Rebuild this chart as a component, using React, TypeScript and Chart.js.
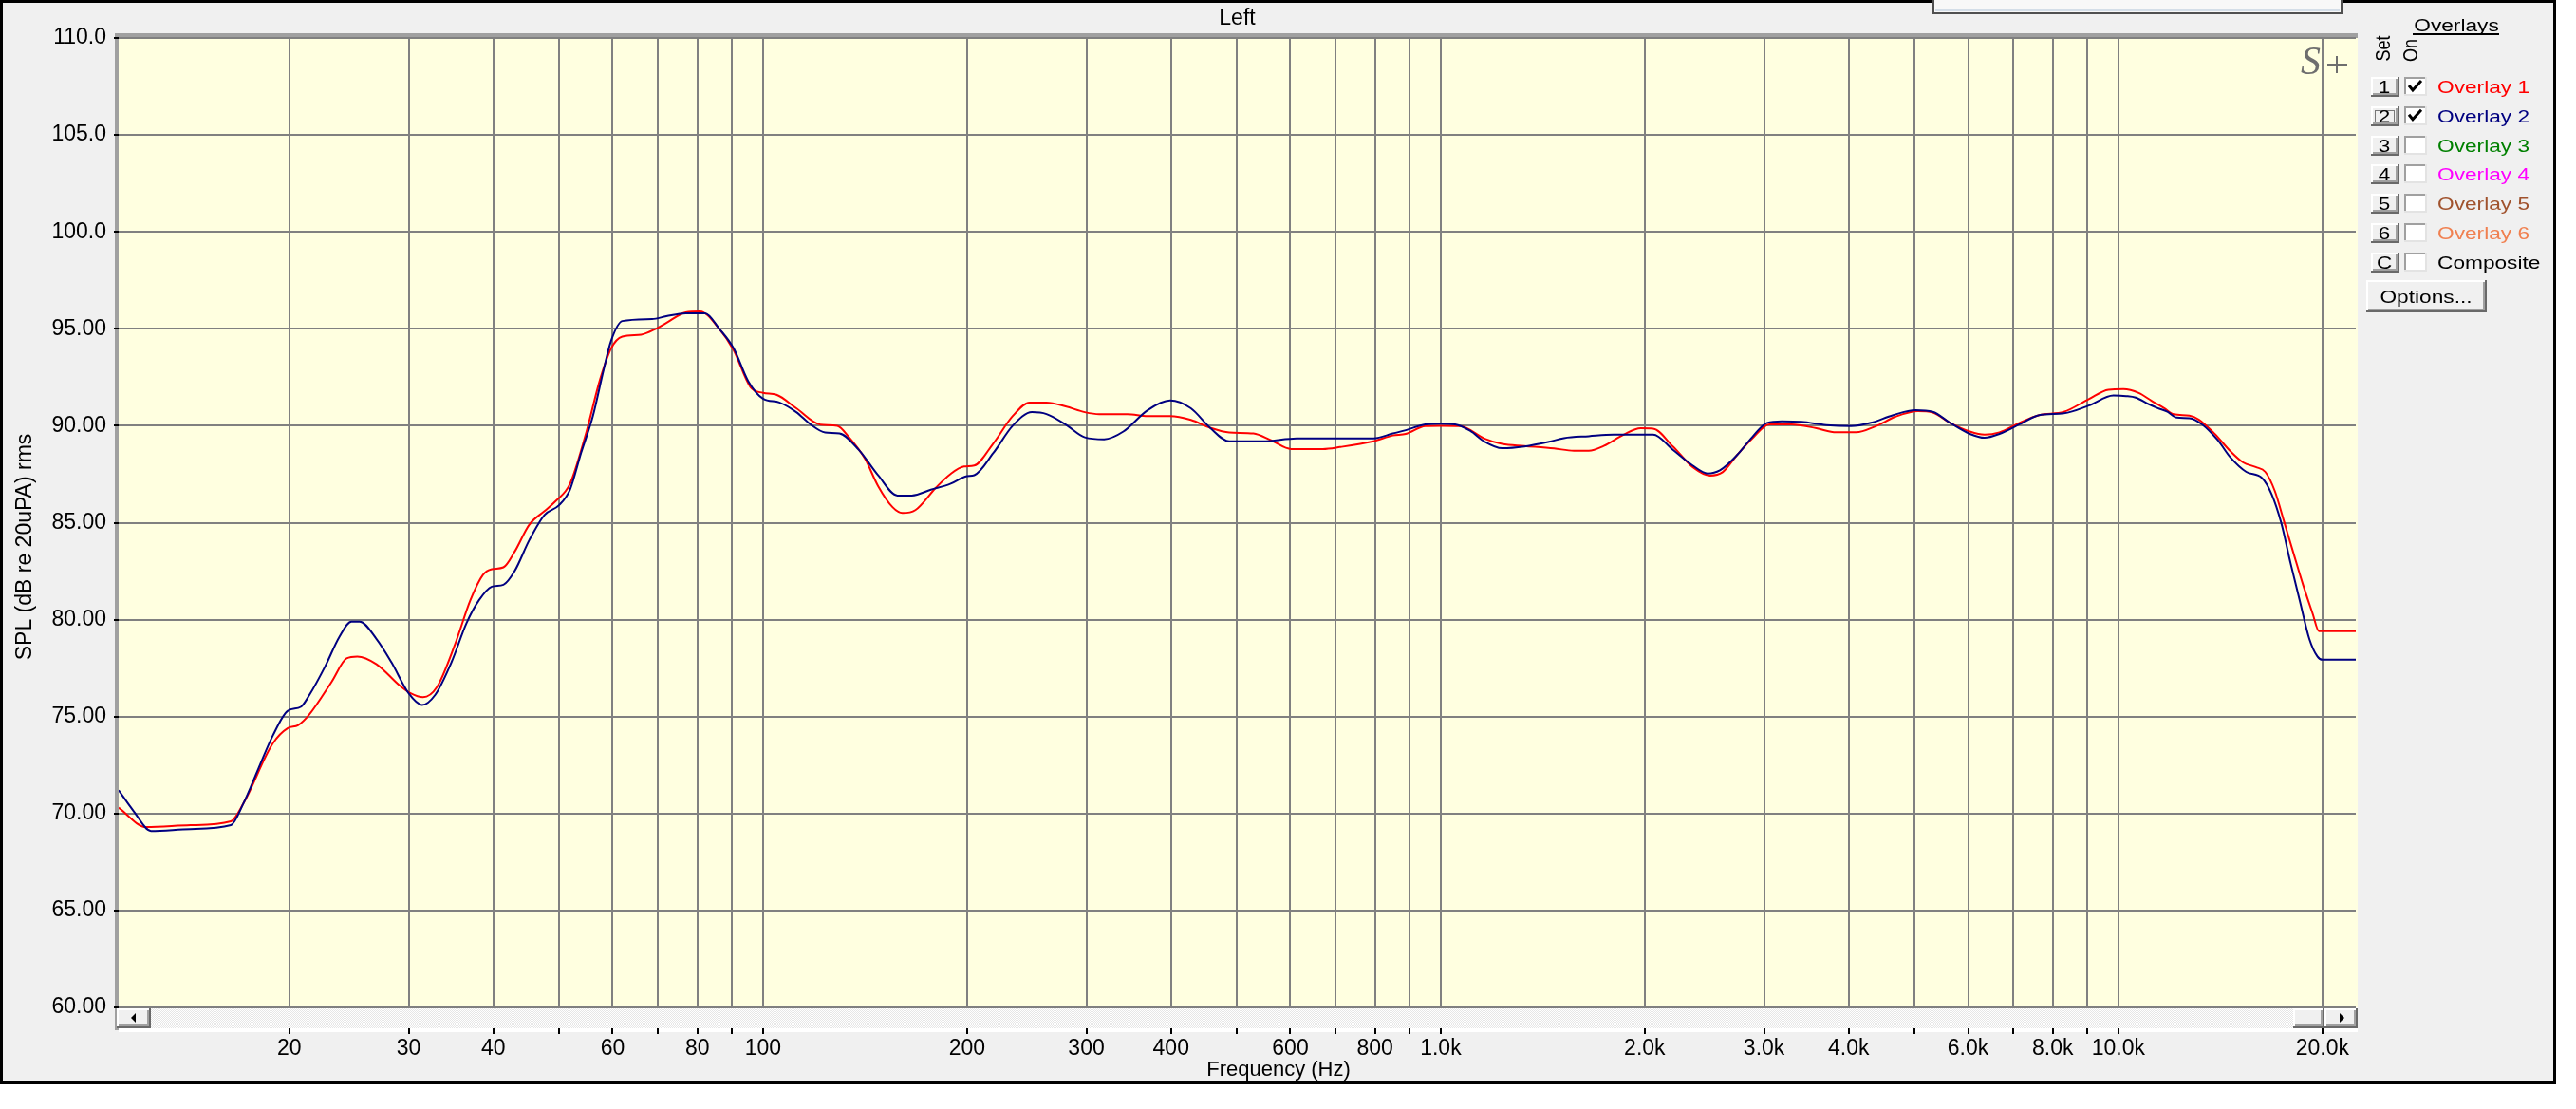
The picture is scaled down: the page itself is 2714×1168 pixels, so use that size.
import React, { useEffect, useRef } from "react";
import { Chart, registerables } from "chart.js";

Chart.register(...registerables);

const CANVAS_W = 2714;
const CANVAS_H = 1168;
const FONT = '"Liberation Sans", Arial, sans-serif';

// ---- Data (frequency in Hz, level in dB) ----
const overlay1Freq = [
  11.2, 12.3, 14.3, 16.4, 17.1, 18.9, 19.9, 20.6, 21.4, 23.1,
  24.3, 25.2, 26.9, 29.1, 30.2, 31.5, 33.0, 35.1, 37.0, 38.6,
  39.8, 41.4, 43.0, 45.2, 47.6, 49.4, 51.9, 54.6, 57.5, 59.7,
  62.0, 66.1, 69.5, 72.0, 76.9, 80.7, 86.2, 90.5, 95.8, 100,
  104.7, 112, 121.5, 128.7, 134, 141.4, 147.8, 155.3, 160.6, 167.8,
  179.9, 188.9, 198, 205, 218.8, 233.6, 247.4, 262, 279.6, 298.5,
  313.5, 345, 369.3, 398.7, 428, 456.6, 487.5, 529.3, 562, 602,
  670, 710, 796, 850, 888, 949, 1000, 1068, 1162, 1232,
  1329, 1470, 1572, 1654, 1740, 1861, 1973, 2058, 2201, 2354,
  2497, 2605, 2739, 2880, 3055, 3296, 3584, 3833, 4101, 4386,
  4691, 5060, 5321, 5643, 6036, 6348, 6676, 7143, 7638, 8311,
  9040, 9667, 10170, 10717, 11190, 11680, 12065, 12728, 13150, 13870,
  14635, 15275, 15945, 16470, 17010, 17570, 18140, 18740, 19350, 19770,
  22400,
];
const overlay1Db = [
  70.3, 69.3, 69.4, 69.6, 70.5, 73.6, 74.4, 74.55, 75.1, 76.8,
  78.0, 78.1, 77.7, 76.6, 76.2, 76.0, 76.5, 78.7, 81.0, 82.3,
  82.6, 82.7, 83.5, 84.9, 85.6, 86.1, 87.0, 89.4, 92.4, 94.0,
  94.6, 94.7, 95.0, 95.3, 95.85, 95.9, 95.0, 93.9, 92.0, 91.7,
  91.6, 90.9, 90.06, 90.0, 89.4, 88.3, 86.9, 85.8, 85.5, 85.65,
  86.8, 87.5, 87.9, 87.95, 89.1, 90.5, 91.2, 91.2, 91.0, 90.7,
  90.6, 90.6, 90.5, 90.5, 90.3, 89.9, 89.65, 89.6, 89.25, 88.8,
  88.8, 88.9, 89.2, 89.5, 89.58, 89.98, 90.0, 89.98, 89.33, 89.06,
  88.96, 88.83, 88.71, 88.71, 88.96, 89.54, 89.87, 89.85, 88.93, 87.87,
  87.43, 87.6, 88.5, 89.33, 90.07, 90.07, 89.87, 89.66, 89.66, 89.98,
  90.47, 90.75, 90.68, 90.15, 89.7, 89.54, 89.66, 90.15, 90.55, 90.72,
  91.37, 91.86, 91.89, 91.69, 91.29, 90.91, 90.59, 90.52, 90.31, 89.58,
  88.68, 88.11, 87.87, 87.62, 86.64, 85.02, 83.39, 81.76, 80.3, 79.4,
  79.4,
];

const overlay2Freq = [
  11.2, 11.8, 12.5, 14.3, 16.4, 17.1, 18.0, 18.9, 19.9, 20.8,
  21.4, 22.6, 23.7, 24.7, 25.4, 26.9, 28.3, 30.0, 31.4, 32.8,
  34.7, 36.5, 38.1, 39.8, 41.4, 43.0, 45.2, 47.6, 50.0, 51.9,
  53.9, 56.1, 58.2, 59.7, 62.0, 68.6, 72.0, 76.9, 82.1, 86.2,
  90.5, 95.1, 100, 105.7, 112, 117.6, 123.5, 129.7, 138.5, 147.8,
  157.9, 165.8, 176.9, 188.9, 200, 205, 218.8, 233.6, 249.4, 262,
  279.6, 298.5, 318.7, 340.2, 369.3, 398.7, 427.9, 456.6, 487.5, 546.6,
  613, 710, 796, 850, 888, 949, 1000, 1050, 1105, 1162,
  1232, 1329, 1445, 1520, 1654, 1799, 2058, 2201, 2354, 2476,
  2582, 2739, 2880, 3030, 3186, 3409, 3708, 4033, 4313, 4652,
  5020, 5321, 5643, 6036, 6348, 6676, 7143, 7638, 8311, 9040,
  9831, 10268, 10605, 11070, 11430, 11810, 12195, 12728, 13288, 14020,
  14635, 15440, 16290, 16825, 17378, 17950, 18530, 19135, 19660, 20000,
  22400,
];
const overlay2Db = [
  71.2, 70.1, 69.1, 69.2, 69.4, 70.5, 72.3, 74.0, 75.3, 75.5,
  76.1, 77.6, 79.1, 79.9, 79.9, 79.0, 77.8, 76.2, 75.6, 76.1,
  77.8, 79.8, 81.0, 81.7, 81.8, 82.5, 84.1, 85.4, 85.9, 86.7,
  88.6, 90.5, 92.9, 94.4, 95.4, 95.5, 95.65, 95.8, 95.8, 95.0,
  94.0, 92.3, 91.4, 91.2, 90.7, 90.06, 89.65, 89.6, 88.75, 87.45,
  86.4, 86.4, 86.7, 87.0, 87.4, 87.45, 88.6, 90.0, 90.7, 90.6,
  90.06, 89.4, 89.3, 89.7, 90.8, 91.3, 90.9, 89.9, 89.2, 89.2,
  89.35, 89.35, 89.35, 89.6, 89.77, 90.07, 90.1, 90.07, 89.74, 89.17,
  88.84, 88.93, 89.17, 89.36, 89.46, 89.54, 89.54, 88.76, 87.95, 87.54,
  87.7, 88.5, 89.4, 90.15, 90.23, 90.2, 90.03, 89.98, 90.15, 90.55,
  90.8, 90.72, 90.15, 89.58, 89.38, 89.58, 90.07, 90.55, 90.64, 91.04,
  91.56, 91.53, 91.45, 91.12, 90.91, 90.72, 90.42, 90.39, 90.07, 89.25,
  88.36, 87.62, 87.3, 86.48, 85.02, 82.9, 80.94, 78.99, 78.1, 77.93,
  77.93,
];

// ---- Axes ----
const xMin = 11.2;
const xMax = 22400;
const xGridValues = [
  20, 30, 40, 50, 60, 70, 80, 90,
  100, 200, 300, 400, 500, 600, 700, 800, 900,
  1000, 2000, 3000, 4000, 5000, 6000, 7000, 8000, 9000,
  10000, 20000,
];
const xLabelValues = [20, 30, 40, 60, 80, 100, 200, 300, 400, 600, 800, 1000, 2000, 3000, 4000, 6000, 8000, 10000, 20000];
const xLabelTexts = ["20", "30", "40", "60", "80", "100", "200", "300", "400", "600", "800", "1.0k", "2.0k", "3.0k", "4.0k", "6.0k", "8.0k", "10.0k", "20.0k"];
const yTickValues = [60, 65, 70, 75, 80, 85, 90, 95, 100, 105, 110];
const yTickLabels = ["60.00", "65.00", "70.00", "75.00", "80.00", "85.00", "90.00", "95.00", "100.0", "105.0", "110.0"];

// ---- Legend panel ----
const legendKeys = ["1", "2", "3", "4", "5", "6", "C"];
const legendNames = ["Overlay 1", "Overlay 2", "Overlay 3", "Overlay 4", "Overlay 5", "Overlay 6", "Composite"];
const legendColors = ["#FF0000", "#000080", "#008000", "#FF00FF", "#A0522D", "#F08050", "#000000"];
const legendOn = [true, true, false, false, false, false, false];

function drawText(
  ctx: CanvasRenderingContext2D,
  s: string,
  x: number,
  y: number,
  size: number,
  color: string,
  align: CanvasTextAlign = "left",
  sx = 1,
  baseline: CanvasTextBaseline = "alphabetic",
  rotate = 0
) {
  ctx.save();
  ctx.translate(x, y);
  if (rotate) ctx.rotate(rotate);
  ctx.scale(rotate ? 1 : sx, rotate ? sx : 1);
  ctx.font = `${size}px ${FONT}`;
  ctx.fillStyle = color;
  ctx.textAlign = align;
  ctx.textBaseline = baseline;
  ctx.fillText(s, 0, 0);
  ctx.restore();
}

function raised(ctx: CanvasRenderingContext2D, x: number, y: number, w: number, h: number) {
  ctx.fillStyle = "#F0F0F0";
  ctx.fillRect(x, y, w, h);
  ctx.fillStyle = "#FFFFFF";
  ctx.fillRect(x, y, w - 1, 2);
  ctx.fillRect(x, y, 2, h - 1);
  ctx.fillStyle = "#A0A0A0";
  ctx.fillRect(x + 2, y + h - 4, w - 4, 2);
  ctx.fillRect(x + w - 4, y + 2, 2, h - 4);
  ctx.fillStyle = "#696969";
  ctx.fillRect(x, y + h - 2, w, 2);
  ctx.fillRect(x + w - 2, y, 2, h);
}

function sunken(ctx: CanvasRenderingContext2D, x: number, y: number, w: number, h: number) {
  ctx.fillStyle = "#FFFFFF";
  ctx.fillRect(x, y, w, h);
  ctx.fillStyle = "#A0A0A0";
  ctx.fillRect(x, y, w, 2);
  ctx.fillRect(x, y, 2, h);
  ctx.fillStyle = "#E3E3E3";
  ctx.fillRect(x, y + h - 2, w, 2);
  ctx.fillRect(x + w - 2, y, 2, h);
}

const chromePlugin = {
  id: "chrome",
  beforeDraw(chart: any) {
    const ctx: CanvasRenderingContext2D = chart.ctx;
    const a = chart.chartArea;
    ctx.save();
    ctx.fillStyle = "#FFFFFF";
    ctx.fillRect(0, 0, CANVAS_W, CANVAS_H);
    ctx.fillStyle = "#F0F0F0";
    ctx.fillRect(0, 0, 2693, 1142);
    ctx.fillStyle = "#000000";
    ctx.fillRect(0, 0, 2693, 3);
    ctx.fillRect(0, 0, 3, 1142);
    ctx.fillRect(2690, 0, 3, 1142);
    ctx.fillRect(0, 1139, 2693, 3);
    // top box
    ctx.fillStyle = "#F8F8F8";
    ctx.fillRect(2036, 0, 432, 15);
    ctx.fillStyle = "#D4DEE8";
    ctx.fillRect(2039, 10, 426, 2);
    ctx.fillStyle = "#505050";
    ctx.fillRect(2036, 0, 2, 15);
    ctx.fillRect(2466, 0, 2, 15);
    ctx.fillRect(2036, 13, 432, 2);
    // plot background
    ctx.fillStyle = "#FFFFE0";
    ctx.fillRect(a.left, a.top, a.right - a.left + 2, a.bottom - a.top);
    // strip under plot
    ctx.fillStyle = "#FFFFFF";
    ctx.fillRect(a.left, a.bottom, a.right - a.left + 2, 26);
    // grey borders
    ctx.fillStyle = "#A0A0A0";
    ctx.fillRect(a.left - 4, a.top - 5, a.right - a.left + 6, 5);
    ctx.fillRect(a.left - 4, a.top - 5, 4, a.bottom - a.top + 29);
    ctx.restore();
  },
  afterDraw(chart: any) {
    const ctx: CanvasRenderingContext2D = chart.ctx;
    const a = chart.chartArea;
    ctx.save();
    // scrollbar
    const pc = document.createElement("canvas");
    pc.width = 2;
    pc.height = 2;
    const p = pc.getContext("2d")!;
    p.fillStyle = "#FFFFFF";
    p.fillRect(0, 0, 2, 2);
    p.fillStyle = "#E6E6E6";
    p.fillRect(0, 0, 1, 1);
    p.fillRect(1, 1, 1, 1);
    const pat = ctx.createPattern(pc, "repeat")!;
    const sy = a.bottom + 1;
    const sh = 21;
    ctx.fillStyle = pat;
    ctx.fillRect(a.left, sy, a.right + 2 - a.left, sh);
    raised(ctx, a.left - 2, sy, 36, sh);
    raised(ctx, 2416, sy, 33, sh);
    raised(ctx, 2449, sy, 35, sh);
    ctx.fillStyle = "#000000";
    ctx.beginPath();
    ctx.moveTo(a.left + 13, sy + 10);
    ctx.lineTo(a.left + 18, sy + 5);
    ctx.lineTo(a.left + 18, sy + 15);
    ctx.closePath();
    ctx.fill();
    ctx.beginPath();
    ctx.moveTo(2470, sy + 10);
    ctx.lineTo(2465, sy + 5);
    ctx.lineTo(2465, sy + 15);
    ctx.closePath();
    ctx.fill();

    // titles
    drawText(ctx, "Left", (a.left + a.right) / 2, 26, 23, "#000000", "center");
    drawText(ctx, "Frequency (Hz)", 1347, 1133, 22, "#000000", "center");
    drawText(ctx, "SPL (dB re 20uPA) rms", 27, 576, 23, "#000000", "center", 1, "middle", -Math.PI / 2);

    // S+ logo
    ctx.fillStyle = "#6E6E6E";
    ctx.font = 'italic 42px "Liberation Serif", serif';
    ctx.textAlign = "left";
    ctx.textBaseline = "alphabetic";
    ctx.fillText("S", 2424, 78);
    ctx.fillRect(2452, 67, 21, 2);
    ctx.fillRect(2461, 59, 2, 18);

    // legend panel
    drawText(ctx, "Overlays", 2588, 33, 18, "#000000", "center", 1.26);
    ctx.fillStyle = "#000000";
    ctx.fillRect(2542, 35, 91, 2);
    drawText(ctx, "Set", 2512, 51, 18, "#000000", "center", 1.25, "middle", -Math.PI / 2);
    drawText(ctx, "On", 2541, 53, 18, "#000000", "center", 1.25, "middle", -Math.PI / 2);
    for (let i = 0; i < legendKeys.length; i++) {
      const rc = 91 + i * 30.8;
      raised(ctx, 2498, Math.round(rc - 10), 30, 21);
      drawText(ctx, legendKeys[i], 2512, rc + 7, 18, "#000000", "center", 1.25);
      if (i === 1) {
        ctx.strokeStyle = "#000000";
        ctx.lineWidth = 1;
        ctx.setLineDash([1, 1]);
        ctx.strokeRect(2502.5, Math.round(rc - 6) + 0.5, 20, 12);
        ctx.setLineDash([]);
      }
      sunken(ctx, 2533, Math.round(rc - 10), 24, 20);
      if (legendOn[i]) {
        ctx.strokeStyle = "#000000";
        ctx.lineWidth = 3;
        ctx.beginPath();
        ctx.moveTo(2538, rc - 1);
        ctx.lineTo(2542, rc + 4);
        ctx.lineTo(2551, rc - 6);
        ctx.stroke();
      }
      drawText(ctx, legendNames[i], 2568, rc + 7, 18, legendColors[i], "left", 1.26);
    }
    raised(ctx, 2493, 295, 127, 34);
    drawText(ctx, "Options...", 2556, 319, 18, "#000000", "center", 1.26);
    ctx.restore();
  },
};

export default function App() {
  const ref = useRef<HTMLCanvasElement>(null);
  useEffect(() => {
    document.body.style.margin = "0";
    document.body.style.overflow = "hidden";
    const canvas = ref.current!;
    const mk = (f: number[], d: number[]) => f.map((x, i) => ({ x, y: d[i] }));
    const chart = new Chart(canvas, {
      type: "line",
      data: {
        datasets: [
          {
            label: "Overlay 2",
            data: mk(overlay2Freq, overlay2Db),
            borderColor: "#000080",
            borderWidth: 2,
            pointRadius: 0,
            cubicInterpolationMode: "monotone",
            fill: false,
          },
          {
            label: "Overlay 1",
            data: mk(overlay1Freq, overlay1Db),
            borderColor: "#FF0000",
            borderWidth: 2,
            pointRadius: 0,
            cubicInterpolationMode: "monotone",
            fill: false,
          },
        ],
      },
      options: {
        responsive: false,
        animation: false,
        devicePixelRatio: 1,
        events: [],
        layout: { padding: { top: 40, right: 232, left: 0, bottom: 0 } },
        plugins: {
          legend: { display: false },
          tooltip: { enabled: false },
          title: { display: false },
        },
        scales: {
          x: {
            type: "logarithmic",
            min: xMin,
            max: xMax,
            bounds: "data",
            afterBuildTicks: (s: any) => {
              s.ticks = xGridValues.map((v) => ({ value: v }));
            },
            afterFit: (s: any) => {
              s.height = CANVAS_H - 1061;
            },
            border: { display: false },
            grid: {
              color: "#808080",
              lineWidth: 2,
              drawTicks: true,
              tickLength: 28,
              tickColor: "#000000",
              tickWidth: 2,
            },
            ticks: {
              autoSkip: false,
              maxRotation: 0,
              minRotation: 0,
              padding: 2,
              color: "#000000",
              font: { family: FONT, size: 23 },
              callback: (v: any) => {
                const i = xLabelValues.indexOf(Number(v));
                return i >= 0 ? xLabelTexts[i] : "";
              },
            },
          },
          y: {
            type: "linear",
            min: 60,
            max: 110,
            afterBuildTicks: (s: any) => {
              s.ticks = yTickValues.map((v) => ({ value: v }));
            },
            afterFit: (s: any) => {
              s.width = 125;
            },
            border: { display: false },
            grid: {
              color: "#808080",
              lineWidth: 2,
              drawTicks: true,
              tickLength: 5,
              tickColor: "#000000",
              tickWidth: 2,
            },
            ticks: {
              autoSkip: false,
              padding: 8,
              color: "#000000",
              font: { family: FONT, size: 23 },
              callback: (v: any) => {
                const i = yTickValues.indexOf(Number(v));
                return i >= 0 ? yTickLabels[i] : "";
              },
            },
          },
        },
      } as any,
      plugins: [chromePlugin],
    });
    return () => chart.destroy();
  }, []);
  return (
    <div style={{ position: "absolute", left: 0, top: 0, width: CANVAS_W, height: CANVAS_H }}>
      <canvas ref={ref} width={CANVAS_W} height={CANVAS_H} style={{ display: "block", width: CANVAS_W, height: CANVAS_H }} />
    </div>
  );
}
